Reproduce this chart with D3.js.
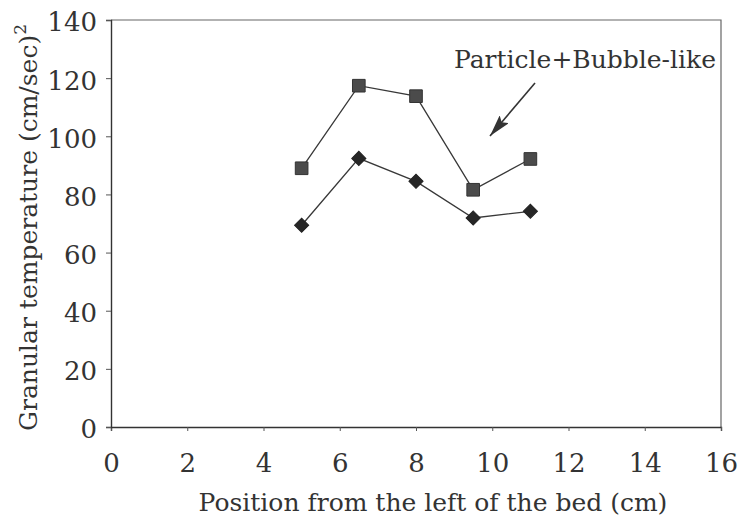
<!DOCTYPE html>
<html>
<head>
<meta charset="utf-8">
<script src="https://cdn.jsdelivr.net/npm/d3@7"></script>
<style>
  html, body { margin: 0; padding: 0; background: #fff; }
  svg { display: block; }
  text { font-family: "DejaVu Serif", serif; fill: #333; }
</style>
</head>
<body>
<svg id="chart" width="740" height="518"></svg>
<script>
// Bed position (cm) where the granular temperature was measured
const positions = [5, 6.5, 8, 9.5, 11];
// Granular temperature, particle + bubble-like contribution (squares)
const particleBubble = [89, 117.4, 113.8, 81.6, 92.2];
// Granular temperature, particle only (diamonds)
const particleOnly = [69.4, 92.4, 84.5, 71.9, 74.2];
// Axis ticks
const xTicks = [0, 2, 4, 6, 8, 10, 12, 14, 16];
const yTicks = [0, 20, 40, 60, 80, 100, 120, 140];

const svg = d3.select("#chart");
const W = 740, H = 518;
const margin = { top: 20, right: 19, bottom: 91, left: 111 };
const innerW = W - margin.left - margin.right;
const innerH = H - margin.top - margin.bottom;

const x = d3.scaleLinear().domain([0, 16]).range([0, innerW]);
const y = d3.scaleLinear().domain([0, 140]).range([innerH, 0]);

const g = svg.append("g").attr("transform", `translate(${margin.left},${margin.top})`);

// Frame (top and right edges)
g.append("path")
  .attr("d", `M0,0H${innerW}V${innerH}`)
  .attr("fill", "none")
  .attr("stroke", "#666")
  .attr("stroke-width", 1.2);

// X axis
const xAxis = g.append("g")
  .attr("transform", `translate(0,${innerH})`)
  .call(d3.axisBottom(x).tickValues(xTicks).tickSize(4).tickPadding(23).tickFormat(d3.format("d")));
xAxis.select(".domain").attr("stroke", "#333").attr("stroke-width", 1.4);
xAxis.selectAll(".tick line").attr("stroke", "#555");
xAxis.selectAll(".tick text").style("font-size", "26px").attr("fill", "#333");

// Y axis
const yAxis = g.append("g")
  .call(d3.axisLeft(y).tickValues(yTicks).tickSize(5).tickPadding(9).tickFormat(d3.format("d")));
yAxis.select(".domain").attr("stroke", "#333").attr("stroke-width", 1.4);
yAxis.selectAll(".tick line").attr("stroke", "#555");
yAxis.selectAll(".tick text").style("font-size", "26px").attr("fill", "#333").attr("dy", "0.42em");

// Axis titles
svg.append("text")
  .attr("x", 433)
  .attr("y", 511)
  .attr("text-anchor", "middle")
  .style("font-size", "25px")
  .text("Position from the left of the bed (cm)");

const yTitle = svg.append("text")
  .attr("transform", `translate(37,${margin.top + innerH / 2 + 4}) rotate(-90)`)
  .attr("text-anchor", "middle")
  .style("font-size", "25px");
yTitle.append("tspan").text("Granular temperature (cm/sec)");
yTitle.append("tspan").attr("dy", -11).style("font-size", "17px").text("2");

// Series lines and markers
const line = d3.line().x(d => x(d[0])).y(d => y(d[1]));
const sq = positions.map((p, i) => [p, particleBubble[i]]);
const dm = positions.map((p, i) => [p, particleOnly[i]]);

[sq, dm].forEach(data => {
  g.append("path")
    .datum(data)
    .attr("d", line)
    .attr("fill", "none")
    .attr("stroke", "#383838")
    .attr("stroke-width", 1.3);
});

g.selectAll(".sq").data(sq).enter().append("path")
  .attr("class", "sq")
  .attr("transform", d => `translate(${x(d[0])},${y(d[1])})`)
  .attr("d", d3.symbol().type(d3.symbolSquare).size(160))
  .attr("fill", "#4b4b4b")
  .attr("stroke", "#333")
  .attr("stroke-width", 1);

g.selectAll(".dm").data(dm).enter().append("path")
  .attr("class", "dm")
  .attr("transform", d => `translate(${x(d[0])},${y(d[1])}) rotate(45)`)
  .attr("d", d3.symbol().type(d3.symbolSquare).size(100))
  .attr("fill", "#262626")
  .attr("stroke", "#222")
  .attr("stroke-width", 1);

// Annotation label with arrow
svg.append("text")
  .attr("x", 585)
  .attr("y", 68)
  .attr("text-anchor", "middle")
  .style("font-size", "25px")
  .text("Particle+Bubble-like");

svg.append("defs").append("marker")
  .attr("id", "head")
  .attr("viewBox", "0 0 22 12")
  .attr("refX", 22).attr("refY", 6)
  .attr("markerWidth", 22).attr("markerHeight", 12)
  .attr("markerUnits", "userSpaceOnUse")
  .attr("orient", "auto")
  .append("path")
  .attr("d", "M0,0L22,6L0,12L4,6Z")
  .attr("fill", "#333");

svg.append("line")
  .attr("x1", 535).attr("y1", 83)
  .attr("x2", 490).attr("y2", 136)
  .attr("stroke", "#333")
  .attr("stroke-width", 1.6)
  .attr("marker-end", "url(#head)");
</script>
</body>
</html>
